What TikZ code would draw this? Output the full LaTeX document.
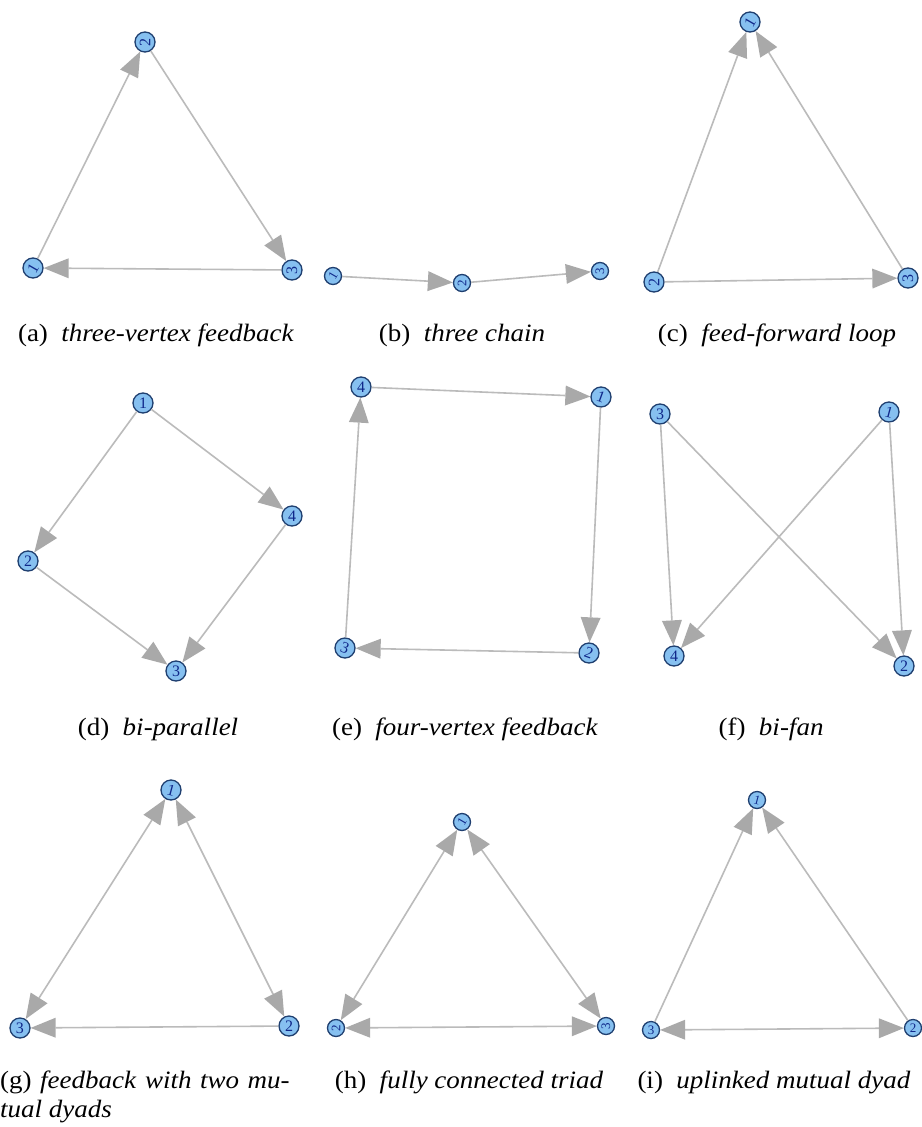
\documentclass[tikz,border=0pt]{standalone}
\usepackage{fontspec}
\setmainfont{Liberation Serif}
\usetikzlibrary{arrows.meta}
\definecolor{edgegray}{HTML}{BBBBBB}
\definecolor{tipgray}{HTML}{A9A9A9}
\definecolor{vfill}{HTML}{86C0F0}
\definecolor{vdraw}{HTML}{1F3F70}
\definecolor{vtext}{HTML}{10288A}
\tikzset{
  vtx/.style={circle, draw=vdraw, fill=vfill, line width=1.3pt, minimum size=20pt,
    inner sep=0pt, font=\fontsize{16}{16}\selectfont, text=vtext},
  smallvtx/.style={vtx, minimum size=17pt, font=\fontsize{13}{13}\selectfont},
  edg/.style={draw=edgegray, line width=1.6pt,
    -{Triangle[length=25pt,width=20pt,color=tipgray,line width=0pt]}},
  bedg/.style={draw=edgegray, line width=1.6pt,
    {Triangle[length=25pt,width=20pt,color=tipgray,line width=0pt]}-{Triangle[length=25pt,width=20pt,color=tipgray,line width=0pt]}},
  captxt/.style={font=\fontsize{25}{30}\selectfont, anchor=base, inner sep=0pt}
}
\begin{document}
\begin{tikzpicture}[x=1pt,y=-1pt]
\useasboundingbox[fill=white] (0,0) rectangle (921,1127);
% (a)
\node[vtx] (a2) at (145,42) {\rotatebox{90}{2}};
\node[vtx] (a1) at (33,268) {\rotatebox{60}{1}};
\node[vtx] (a3) at (292,270) {\rotatebox{90}{3}};
\draw[edg] (a1) -- (a2);
\draw[edg] (a2) -- (a3);
\draw[edg] (a3) -- (a1);
\node[captxt] (capa) at (156,341) {\scalebox{1.08}[1]{(a)~~\textit{three-vertex feedback}}};
% (b)
\node[smallvtx] (b1) at (333,276) {\rotatebox{60}{1}};
\node[smallvtx] (b2) at (462,283) {\rotatebox{90}{2}};
\node[smallvtx] (b3) at (600,271) {\rotatebox{90}{3}};
\draw[edg] (b1) -- (b2);
\draw[edg] (b2) -- (b3);
\node[captxt] (capb) at (462,341) {\scalebox{1.08}[1]{(b)~~\textit{three chain}}};
% (c)
\node[vtx] (c1) at (750,22) {\rotatebox{60}{1}};
\node[vtx] (c2) at (654,282) {\rotatebox{90}{2}};
\node[vtx] (c3) at (908,278) {\rotatebox{90}{3}};
\draw[edg] (c2) -- (c1);
\draw[edg] (c3) -- (c1);
\draw[edg] (c2) -- (c3);
\node[captxt] (capc) at (777,341) {\scalebox{1.08}[1]{(c)~~\textit{feed-forward loop}}};
% (d)
\node[vtx] (d1) at (143,403) {1};
\node[vtx] (d2) at (28,561) {2};
\node[vtx] (d3) at (176,671) {3};
\node[vtx] (d4) at (292,516) {4};
\draw[edg] (d1) -- (d2);
\draw[edg] (d1) -- (d4);
\draw[edg] (d2) -- (d3);
\draw[edg] (d4) -- (d3);
\node[captxt] (capd) at (158,735) {\scalebox{1.08}[1]{(d)~~\textit{bi-parallel}}};
% (e)
\node[vtx] (e4) at (361,387) {4};
\node[vtx] (e1) at (601,397) {\rotatebox{-20}{1}};
\node[vtx] (e2) at (589,653) {\rotatebox{-20}{2}};
\node[vtx] (e3) at (345,648) {\rotatebox{-20}{3}};
\draw[edg] (e4) -- (e1);
\draw[edg] (e1) -- (e2);
\draw[edg] (e2) -- (e3);
\draw[edg] (e3) -- (e4);
\node[captxt] (cape) at (465,735) {\scalebox{1.08}[1]{(e)~~\textit{four-vertex feedback}}};
% (f)
\node[vtx] (f3) at (660,414) {3};
\node[vtx] (f1) at (889,412) {\rotatebox{-15}{1}};
\node[vtx] (f4) at (674,656) {4};
\node[vtx] (f2) at (904,666) {2};
\draw[edg] (f3) -- (f4);
\draw[edg] (f3) -- (f2);
\draw[edg] (f1) -- (f4);
\draw[edg] (f1) -- (f2);
\node[captxt] (capf) at (771,735) {\scalebox{1.08}[1]{(f)~~\textit{bi-fan}}};
% (g)
\node[vtx] (g1) at (171,790) {\rotatebox{-15}{1}};
\node[vtx] (g3) at (20,1028) {3};
\node[vtx] (g2) at (289,1026) {2};
\draw[bedg] (g1) -- (g3);
\draw[bedg] (g1) -- (g2);
\draw[edg] (g2) -- (g3);
\node[captxt, anchor=base west] (capg1) at (0,1088) {\scalebox{1.08}[1]{\makebox[268pt][s]{(g)\hfill\textit{feedback}\hfill\textit{with}\hfill\textit{two}\hfill\textit{mu-}}}};
\node[captxt, anchor=base west] (capg2) at (0,1117) {\scalebox{1.08}[1]{\textit{tual dyads}}};
% (h)
\node[smallvtx] (h1) at (462,822) {\rotatebox{60}{1}};
\node[smallvtx] (h2) at (336,1028) {\rotatebox{90}{2}};
\node[smallvtx] (h3) at (606,1026) {\rotatebox{90}{3}};
\draw[bedg] (h1) -- (h2);
\draw[bedg] (h1) -- (h3);
\draw[bedg] (h2) -- (h3);
\node[captxt] (caph) at (469,1088) {\scalebox{1.08}[1]{(h)~~\textit{fully connected triad}}};
% (i)
\node[smallvtx] (i1) at (757,800) {\rotatebox{-15}{1}};
\node[smallvtx] (i3) at (651,1030) {3};
\node[smallvtx] (i2) at (913,1028) {2};
\draw[edg] (i3) -- (i1);
\draw[edg] (i2) -- (i1);
\draw[bedg] (i3) -- (i2);
\node[captxt] (capi) at (774,1088) {\scalebox{1.08}[1]{(i)~~\textit{uplinked mutual dyad}}};
\end{tikzpicture}
\end{document}
